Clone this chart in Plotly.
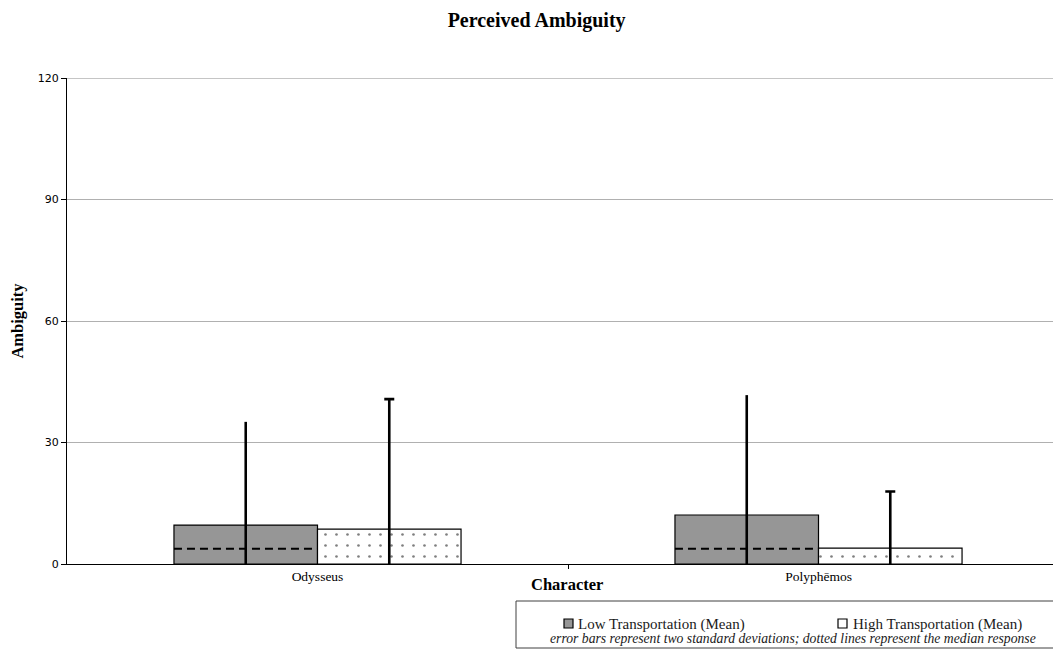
import plotly.graph_objects as go

categories = ["Odysseus", "Polyphēmos"]
low_mean = [9.6, 12.1]
low_err = [25.5, 29.6]
low_median = [3.75, 3.75]
high_mean = [8.6, 3.9]
high_err = [32.1, 14.0]
y_ticks = [0, 30, 60, 90, 120]
series_names = ["Low Transportation (Mean)", "High Transportation (Mean)"]
note = "error bars represent two standard deviations; dotted lines represent the median response"

idx = list(range(len(categories)))
bw = 0.2865
low_x = [i - bw / 2 for i in idx]
high_x = [i + bw / 2 for i in idx]

LOW_COLOR = "#969696"

fig = go.Figure()
fig.add_trace(go.Bar(
    x=low_x, y=low_mean, width=bw, name=series_names[0], showlegend=False,
    marker=dict(color=LOW_COLOR, line=dict(color="#000000", width=1.2)),
    error_y=dict(type="data", array=low_err, visible=True, color="#000000",
                 thickness=2.6, width=0),
))
fig.add_trace(go.Bar(
    x=high_x, y=high_mean, width=bw, name=series_names[1], showlegend=False,
    marker=dict(color="#ffffff", line=dict(color="#000000", width=1.2),
                pattern=dict(shape=".", fgcolor="#000000", bgcolor="#ffffff",
                             size=11, solidity=0.045)),
    error_y=dict(type="data", array=high_err, visible=True, color="#000000",
                 thickness=2.6, width=5),
))
for i, m in zip(idx, low_median):
    fig.add_trace(go.Scatter(
        x=[i - bw, i], y=[m, m], mode="lines", showlegend=False,
        line=dict(color="#000000", width=2, dash="8px,5px"), hoverinfo="skip",
    ))

# legend drawn as paper-coordinate shapes/text (plot area: x 67..1061, y 78..564 on screen)
def px_x(v):
    return (v - 67) / 994.0

def px_y(v):
    return (564 - v) / 486.0

legend_items = [(564, 576, LOW_COLOR), (838, 851, "#ffffff")]
shapes = [
    dict(type="line", xref="paper", yref="y", x0=0, x1=1, y0=y_ticks[-1], y1=y_ticks[-1],
         line=dict(color="#8c8c8c", width=1), layer="below"),
    dict(type="rect", xref="paper", yref="paper",
         x0=px_x(516), x1=1.02, y0=px_y(648), y1=px_y(601),
         line=dict(color="#404040", width=1), fillcolor="rgba(0,0,0,0)"),
]
annotations = [
    dict(text="<b>Character</b>", xref="paper", yref="paper", x=px_x(567), y=px_y(584),
         xanchor="center", yanchor="middle", showarrow=False,
         font=dict(family="Liberation Serif", size=16.5, color="#000000")),
    dict(text="<i>" + note + "</i>", xref="paper", yref="paper", x=px_x(793), y=px_y(638),
         xanchor="center", yanchor="middle", showarrow=False,
         font=dict(family="Liberation Serif", size=13.7, color="#1a1a1a")),
]
for (sx, tx, col), name in zip(legend_items, series_names):
    shapes.append(dict(type="rect", xref="paper", yref="paper",
                       x0=px_x(sx), x1=px_x(sx + 9), y0=px_y(628), y1=px_y(619),
                       line=dict(color="#000000", width=1.2), fillcolor=col))
    annotations.append(dict(text=name, xref="paper", yref="paper", x=px_x(tx), y=px_y(624),
                            xanchor="left", yanchor="middle", showarrow=False,
                            font=dict(family="Liberation Serif", size=15, color="#1a1a1a")))

fig.update_layout(
    width=1053, height=642,
    margin=dict(l=59, r=0, t=70, b=86, autoexpand=False),
    paper_bgcolor="white", plot_bgcolor="white",
    barmode="overlay",
    font=dict(family="Liberation Serif", color="#000000"),
    title=dict(text="<b>Perceived Ambiguity</b>", x=0.502, xanchor="center",
               y=0.981, yanchor="middle",
               font=dict(family="Liberation Serif", size=20, color="#000000")),
    showlegend=False,
    xaxis=dict(
        range=[-0.5, 1.484], tickmode="array", tickvals=idx, ticktext=categories,
        showline=True, linecolor="#000000", linewidth=1.2, ticks="",
        showgrid=False, zeroline=False,
        tickfont=dict(family="Liberation Serif", size=13.5, color="#000000"),
        minor=dict(tickmode="array", tickvals=[0.5], ticks="outside",
                   ticklen=4, tickcolor="#000000", showgrid=False),
    ),
    yaxis=dict(
        range=[0, 120], tickmode="array", tickvals=y_ticks,
        showline=True, linecolor="#000000", linewidth=1.2,
        ticks="outside", ticklen=5, tickcolor="#000000",
        showgrid=True, gridcolor="#b0b0b0", gridwidth=1, zeroline=False,
        tickfont=dict(family="DejaVu Sans", size=11, color="#000000"),
        title=dict(text="<b>Ambiguity</b>", standoff=10,
                   font=dict(family="Liberation Serif", size=16.5, color="#000000")),
    ),
    shapes=shapes,
    annotations=annotations,
)

fig.write_html("out.html")
